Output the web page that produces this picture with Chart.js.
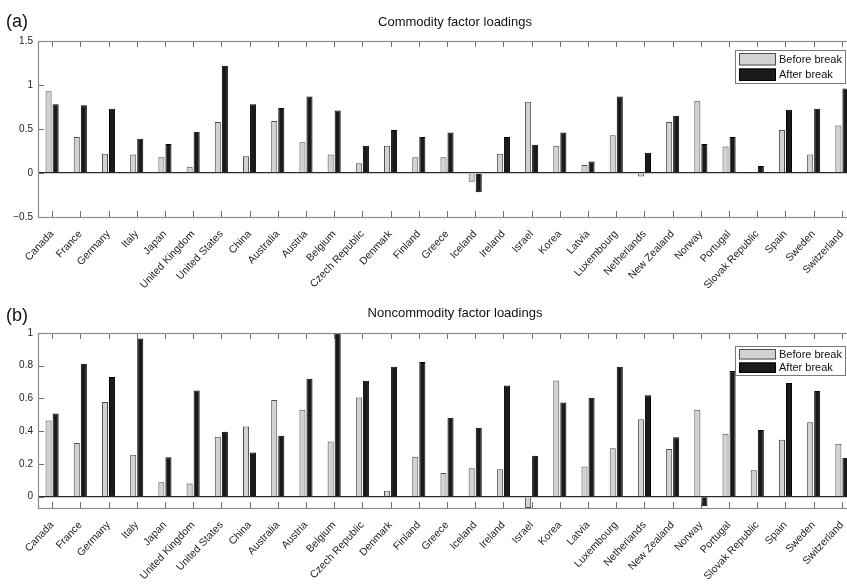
<!DOCTYPE html>
<html>
<head>
<meta charset="utf-8">
<title>Factor loadings</title>
<script src="https://cdn.jsdelivr.net/npm/chart.js@4.4.0/dist/chart.umd.min.js"></script>
<style>
    html, body {
        margin: 0;
        padding: 0;
        background: #ffffff;
        overflow: hidden;
        width: 847px;
        height: 584px;
        font-family: "Liberation Sans", Arial, sans-serif;
        color: #111;
    }
    .panel {
        position: absolute;
        left: 0;
        width: 860px;
    }
    .panel-letter {
        position: absolute;
        left: 6px;
        font-size: 18px;
        line-height: 18px;
    }
    .panel-title {
        position: absolute;
        left: 455px;
        transform: translateX(-50%);
        font-size: 13px;
        line-height: 14px;
        white-space: nowrap;
    }
</style>
</head>
<body>
<div class="panel" style="top:0;height:300px;">
    <canvas id="chart-commodity" width="860" height="300" style="width:860px;height:300px;"></canvas>
</div>
<div class="panel" style="top:300px;height:284px;">
    <canvas id="chart-noncommodity" width="860" height="284" style="width:860px;height:284px;"></canvas>
</div>
<div class="panel-letter" style="top:12px;">(a)</div>
<div class="panel-title" style="top:15px;">Commodity factor loadings</div>
<div class="panel-letter" style="top:306px;">(b)</div>
<div class="panel-title" style="top:306px;">Noncommodity factor loadings</div>

<script>
var countries = [
    'Canada', 'France', 'Germany', 'Italy', 'Japan', 'United Kingdom', 'United States',
    'China', 'Australia', 'Austria', 'Belgium', 'Czech Republic', 'Denmark', 'Finland',
    'Greece', 'Iceland', 'Ireland', 'Israel', 'Korea', 'Latvia', 'Luxembourg',
    'Netherlands', 'New Zealand', 'Norway', 'Portugal', 'Slovak Republic', 'Spain',
    'Sweden', 'Switzerland'
];

var seriesNames = ['Before break', 'After break'];

// (a) commodity factor loadings
var commodityBefore = [
    0.93, 0.41, 0.22, 0.21, 0.18, 0.07, 0.58,
    0.19, 0.59, 0.35, 0.21, 0.11, 0.31, 0.18,
    0.18, -0.10, 0.22, 0.81, 0.31, 0.09, 0.43,
    -0.04, 0.58, 0.82, 0.30, -0.01, 0.49,
    0.21, 0.54
];
var commodityAfter = [
    0.78, 0.77, 0.73, 0.39, 0.33, 0.47, 1.22,
    0.78, 0.74, 0.87, 0.71, 0.31, 0.49, 0.41,
    0.46, -0.22, 0.41, 0.32, 0.46, 0.13, 0.87,
    0.23, 0.65, 0.33, 0.41, 0.08, 0.72,
    0.73, 0.96
];
var commodityTicks = [-0.5, 0, 0.5, 1, 1.5];

// (b) noncommodity factor loadings
var noncommodityBefore = [
    0.465, 0.327, 0.578, 0.255, 0.088, 0.08, 0.365,
    0.429, 0.59, 0.531, 0.337, 0.606, 0.035, 0.243,
    0.144, 0.173, 0.167, -0.07, 0.709, 0.183, 0.295,
    0.472, 0.291, 0.53, 0.384, 0.161, 0.348,
    0.455, 0.323
];
var noncommodityAfter = [
    0.508, 0.812, 0.731, 0.967, 0.241, 0.649, 0.396,
    0.269, 0.371, 0.72, 1.0, 0.708, 0.794, 0.822,
    0.482, 0.421, 0.679, 0.25, 0.575, 0.604, 0.793,
    0.62, 0.362, -0.06, 0.768, 0.407, 0.695,
    0.646, 0.238
];
var noncommodityTicks = [0, 0.2, 0.4, 0.6, 0.8, 1];

(function() {
    'use strict';

    var FONT = '"Liberation Sans", Arial, sans-serif';

    /**
     * Box around the plot area with MATLAB style inward ticks
     */
    var framePlugin = {
        id: 'frame',
        afterDatasetsDraw: function(chart) {
            var ctx = chart.ctx;
            var area = chart.chartArea;
            var xScale = chart.scales.x;
            var yScale = chart.scales.y;
            var len = 6;

            ctx.save();
            ctx.lineWidth = 1;
            ctx.strokeStyle = '#6e6e6e';
            ctx.beginPath();
            chart.data.labels.forEach(function(label, i) {
                var x = Math.round(xScale.getPixelForValue(i)) + 0.5;
                ctx.moveTo(x, area.top);
                ctx.lineTo(x, area.top + len);
                ctx.moveTo(x, area.bottom);
                ctx.lineTo(x, area.bottom - len);
            });
            yScale.ticks.forEach(function(tick) {
                var y = Math.round(yScale.getPixelForValue(tick.value)) + 0.5;
                ctx.moveTo(area.left, y);
                ctx.lineTo(area.left + len, y);
            });
            ctx.stroke();

            ctx.strokeStyle = '#8c8c8c';
            ctx.lineWidth = 1.2;
            ctx.strokeRect(Math.round(area.left) + 0.5, Math.round(area.top) + 0.5,
                Math.round(area.right - area.left), Math.round(area.bottom - area.top));
            ctx.restore();
        }
    };

    /**
     * Legend box drawn inside the plot area, top right
     */
    var boxLegendPlugin = {
        id: 'boxLegend',
        afterDraw: function(chart, args, opts) {
            var ctx = chart.ctx;
            var area = chart.chartArea;
            var left = area.right - 121;
            var top = area.top + opts.top;
            var h = opts.height;
            var rowH = h / 2;

            ctx.save();
            ctx.fillStyle = '#ffffff';
            ctx.fillRect(left, top, 111, h);
            ctx.strokeStyle = '#7a7a7a';
            ctx.lineWidth = 1;
            ctx.strokeRect(left + 0.5, top + 0.5, 110, h);

            ctx.font = '11px ' + FONT;
            ctx.textBaseline = 'middle';
            chart.data.datasets.forEach(function(ds, i) {
                var sy = top + 3 + i * (rowH - 1);
                var sh = rowH - 4;
                ctx.fillStyle = ds.backgroundColor;
                ctx.fillRect(left + 4, sy, 37, sh);
                ctx.strokeStyle = ds.borderColor;
                ctx.strokeRect(left + 4.5, sy + 0.5, 36, sh - 1);
                ctx.fillStyle = '#111';
                ctx.fillText(ds.label, left + 44, sy + sh / 2 + 0.5);
            });
            ctx.restore();
        }
    };

    function formatTick(value) {
        var s = String(Math.round(value * 10) / 10);
        return s.replace('-', '\u2212');
    }

    /**
     * Build one grouped bar panel
     */
    function buildPanel(canvasId, before, after, tickValues, opts) {
        var ctx = document.getElementById(canvasId).getContext('2d');

        return new Chart(ctx, {
            type: 'bar',
            data: {
                labels: countries,
                datasets: [{
                    label: seriesNames[0],
                    data: before,
                    backgroundColor: '#d2d2d2',
                    borderColor: '#4d4d4d',
                    borderWidth: 1,
                    categoryPercentage: 0.5,
                    barPercentage: 0.86
                }, {
                    label: seriesNames[1],
                    data: after,
                    backgroundColor: '#1a1a1a',
                    borderColor: '#000000',
                    borderWidth: 1,
                    categoryPercentage: 0.5,
                    barPercentage: 0.86
                }]
            },
            plugins: [framePlugin, boxLegendPlugin],
            options: {
                responsive: false,
                animation: false,
                devicePixelRatio: 1,
                layout: {
                    padding: { top: opts.padTop, left: 0, right: 4, bottom: 0 }
                },
                plugins: {
                    legend: { display: false },
                    title: { display: false },
                    tooltip: { enabled: false },
                    boxLegend: { top: opts.legendTop, height: opts.legendHeight }
                },
                scales: {
                    x: {
                        grid: { display: false },
                        border: { display: false },
                        ticks: {
                            autoSkip: false,
                            maxRotation: 47,
                            minRotation: 47,
                            padding: 3,
                            color: '#222',
                            font: { family: FONT, size: 10.5 }
                        },
                        afterFit: function(scale) {
                            scale.height = opts.axisHeight;
                        }
                    },
                    y: {
                        min: opts.min,
                        max: opts.max,
                        border: { display: false },
                        grid: {
                            drawTicks: false,
                            lineWidth: 1.3,
                            color: function(c) {
                                return c.tick && c.tick.value === 0 ? '#2a2a2a' : 'rgba(0,0,0,0)';
                            }
                        },
                        ticks: {
                            padding: 5,
                            color: '#222',
                            font: { family: FONT, size: 10 },
                            callback: function(value) {
                                return formatTick(value);
                            }
                        },
                        afterBuildTicks: function(scale) {
                            scale.ticks = tickValues.map(function(v) {
                                return { value: v };
                            });
                        },
                        afterFit: function(scale) {
                            scale.width = 38;
                        }
                    }
                }
            }
        });
    }

    buildPanel('chart-commodity', commodityBefore, commodityAfter, commodityTicks, {
        min: -0.5, max: 1.5, padTop: 41, axisHeight: 83, legendTop: 9, legendHeight: 33
    });

    buildPanel('chart-noncommodity', noncommodityBefore, noncommodityAfter, noncommodityTicks, {
        min: -0.07, max: 1, padTop: 33, axisHeight: 76, legendTop: 13, legendHeight: 29
    });
})();
</script>
</body>
</html>
